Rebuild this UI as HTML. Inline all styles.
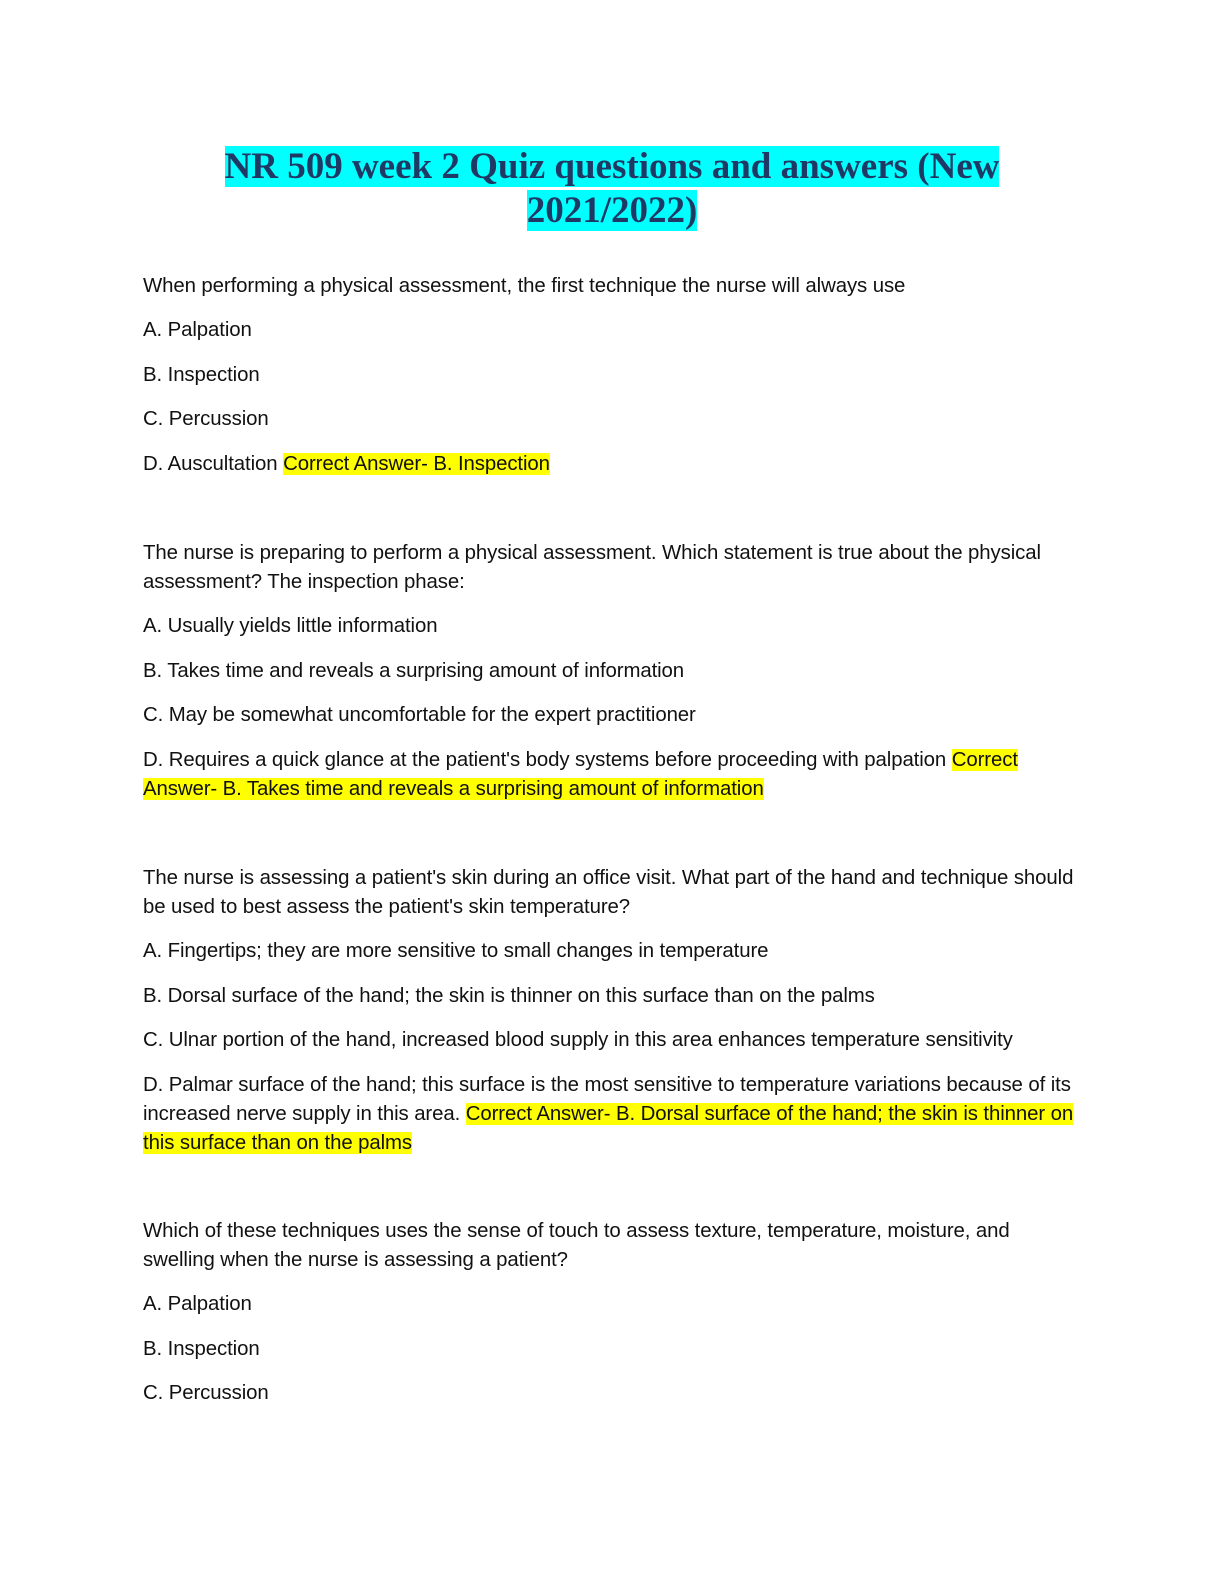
<!DOCTYPE html>
<html><head><meta charset="utf-8"><style>
html,body{margin:0;padding:0;background:#fff;}
body{width:1224px;height:1584px;position:relative;overflow:hidden;}
.t{position:absolute;left:0;width:1224px;text-align:center;font-family:"Liberation Serif",serif;font-weight:bold;font-size:37px;line-height:44px;color:#1f3864;}
.t span{background:#00ffff;}
.l{position:absolute;left:143px;font-family:"Liberation Sans",sans-serif;font-size:20.4px;line-height:24px;color:#111;white-space:nowrap;letter-spacing:-0.1px;}
.h{background:#ffff00;}
</style></head><body>
<div class="t" style="top:145px"><span>NR 509 week 2 Quiz questions and answers (New</span></div>
<div class="t" style="top:189px"><span>2021/2022)</span></div>

<div class="l" style="top:274px">When performing a physical assessment, the first technique the nurse will always use</div>
<div class="l" style="top:318px">A. Palpation</div>
<div class="l" style="top:363px">B. Inspection</div>
<div class="l" style="top:407px">C. Percussion</div>
<div class="l" style="top:452px">D. Auscultation <span class="h">Correct Answer- B. Inspection</span></div>

<div class="l" style="top:541px">The nurse is preparing to perform a physical assessment. Which statement is true about the physical</div>
<div class="l" style="top:570px">assessment? The inspection phase:</div>
<div class="l" style="top:614px">A. Usually yields little information</div>
<div class="l" style="top:659px">B. Takes time and reveals a surprising amount of information</div>
<div class="l" style="top:703px">C. May be somewhat uncomfortable for the expert practitioner</div>
<div class="l" style="top:748px">D. Requires a quick glance at the patient's body systems before proceeding with palpation <span class="h">Correct</span></div>
<div class="l" style="top:777px"><span class="h">Answer- B. Takes time and reveals a surprising amount of information</span></div>

<div class="l" style="top:866px">The nurse is assessing a patient's skin during an office visit. What part of the hand and technique should</div>
<div class="l" style="top:895px">be used to best assess the patient's skin temperature?</div>
<div class="l" style="top:939px">A. Fingertips; they are more sensitive to small changes in temperature</div>
<div class="l" style="top:984px">B. Dorsal surface of the hand; the skin is thinner on this surface than on the palms</div>
<div class="l" style="top:1028px">C. Ulnar portion of the hand, increased blood supply in this area enhances temperature sensitivity</div>
<div class="l" style="top:1073px">D. Palmar surface of the hand; this surface is the most sensitive to temperature variations because of its</div>
<div class="l" style="top:1102px">increased nerve supply in this area. <span class="h">Correct Answer- B. Dorsal surface of the hand; the skin is thinner on</span></div>
<div class="l" style="top:1131px"><span class="h">this surface than on the palms</span></div>

<div class="l" style="top:1219px">Which of these techniques uses the sense of touch to assess texture, temperature, moisture, and</div>
<div class="l" style="top:1248px">swelling when the nurse is assessing a patient?</div>
<div class="l" style="top:1292px">A. Palpation</div>
<div class="l" style="top:1337px">B. Inspection</div>
<div class="l" style="top:1381px">C. Percussion</div>
</body></html>
